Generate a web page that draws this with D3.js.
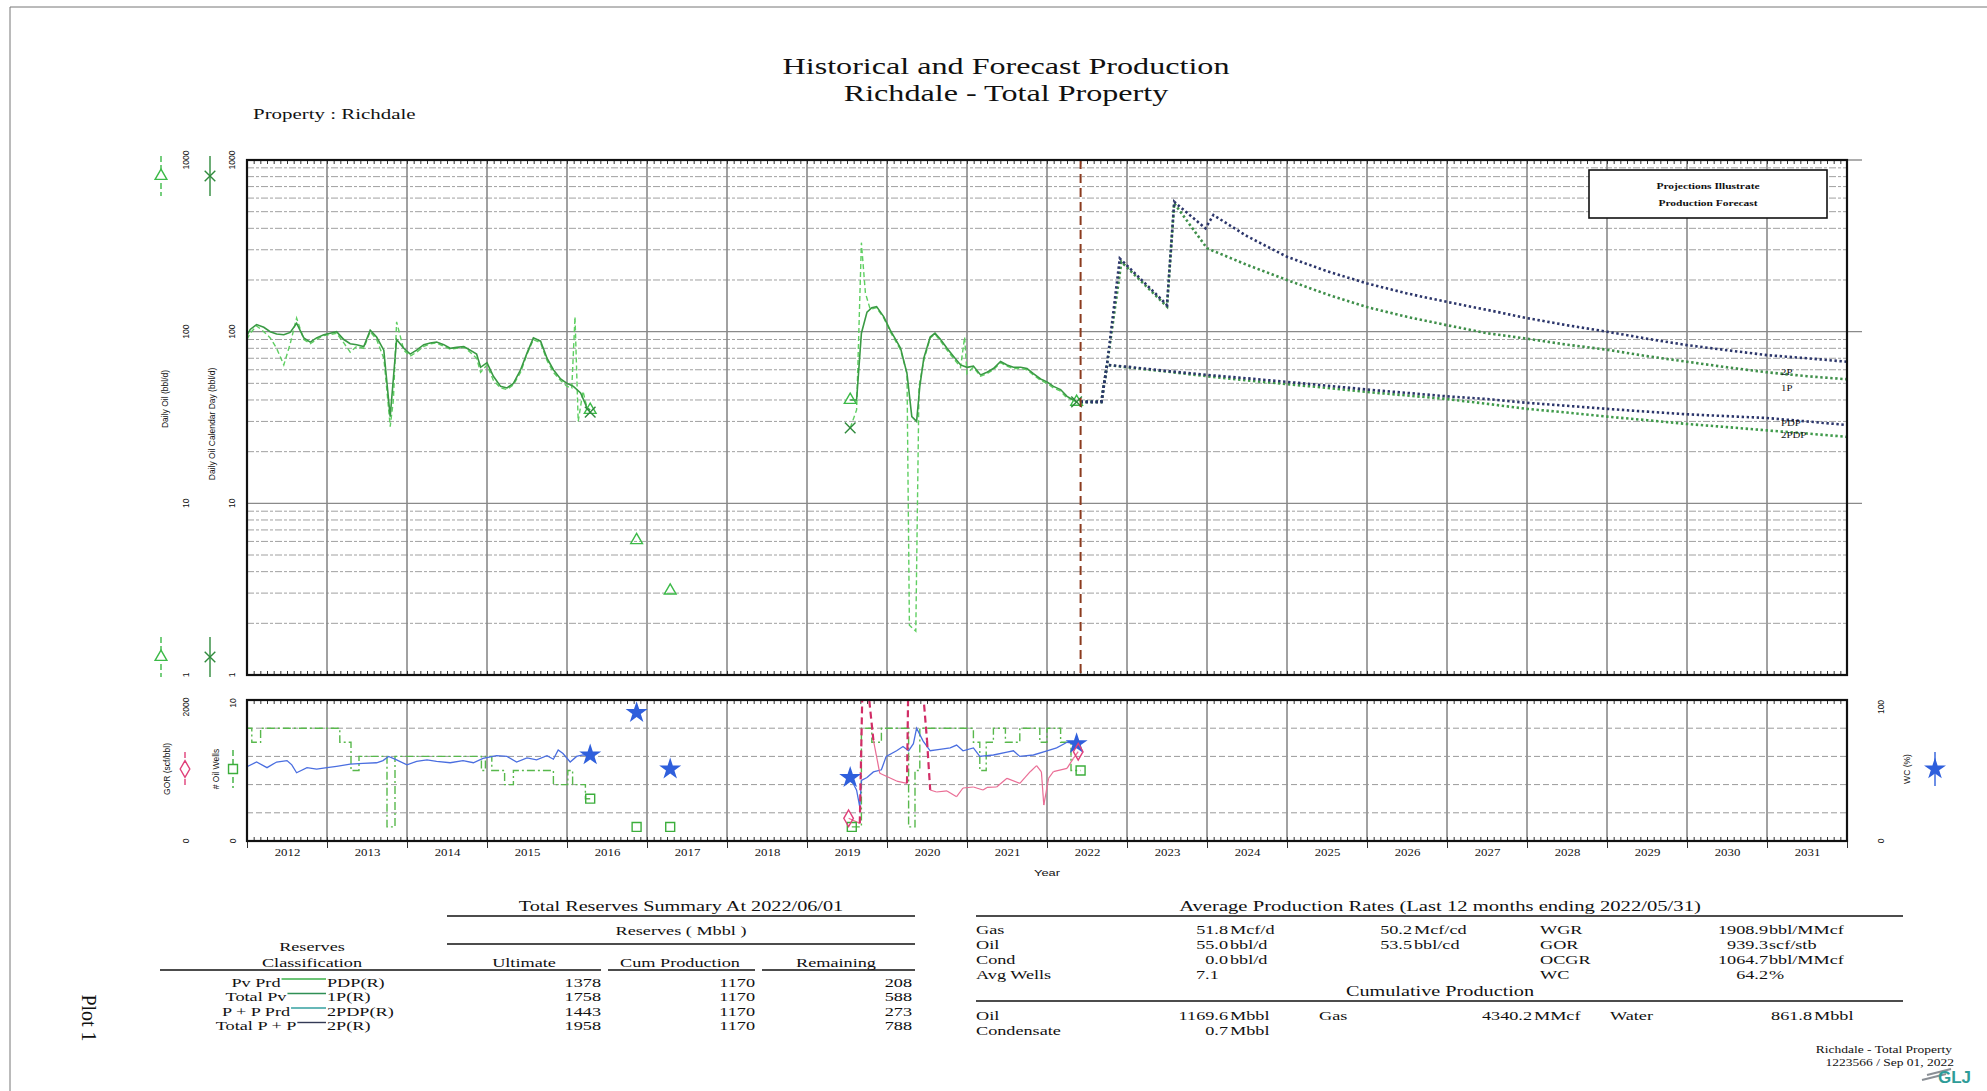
<!DOCTYPE html>
<html>
<head>
<meta charset="utf-8">
<script src="https://cdn.jsdelivr.net/npm/d3@7"></script>
<style>
	body { margin: 0; background: #fff; }
	text { font-family: "Liberation Serif", "Times New Roman", serif; fill: #111; }
	.sans { font-family: "Liberation Sans", Arial, sans-serif; }
</style>
</head>
<body>
<script>
// ---- data (decimal year, value) ----
const years = [2012, 2013, 2014, 2015, 2016, 2017, 2018, 2019, 2020, 2021, 2022, 2023, 2024, 2025, 2026, 2027, 2028, 2029, 2030, 2031];
const oilTicks = [1, 10, 100, 1000];
const forecastStart = 2022.42;

const oilDaily = [
	[2012.00, 95], [2012.04, 103], [2012.12, 110], [2012.21, 106], [2012.29, 100], [2012.37, 97], [2012.46, 96], [2012.54, 99],
	[2012.62, 112], [2012.71, 92], [2012.79, 87], [2012.87, 92], [2012.96, 96], [2013.04, 98], [2013.12, 100], [2013.21, 90],
	[2013.29, 85], [2013.37, 84], [2013.46, 82], [2013.54, 102], [2013.62, 93], [2013.71, 78], [2013.79, 32], [2013.87, 90],
	[2013.96, 80], [2014.04, 74], [2014.12, 78], [2014.21, 84], [2014.29, 86], [2014.37, 87], [2014.46, 84], [2014.54, 80],
	[2014.62, 81], [2014.71, 82], [2014.79, 78], [2014.87, 74], [2014.92, 62], [2015.00, 66], [2015.08, 55], [2015.17, 48],
	[2015.25, 47], [2015.33, 50], [2015.42, 60], [2015.50, 75], [2015.58, 92], [2015.67, 88], [2015.75, 70], [2015.83, 60],
	[2015.92, 53], [2016.00, 50], [2016.08, 48], [2016.17, 44], [2016.25, 36], [2016.29, 35],
	[2016.5, null],
	[2019.54, 40], [2019.62, 40], [2019.68, 98], [2019.75, 130], [2019.81, 138], [2019.87, 140], [2019.96, 122], [2020.04, 102],
	[2020.12, 88], [2020.17, 80], [2020.25, 57], [2020.31, 32], [2020.37, 30], [2020.41, 48], [2020.46, 70], [2020.54, 93],
	[2020.60, 98], [2020.67, 90], [2020.75, 80], [2020.83, 72], [2020.92, 64], [2021.00, 62], [2021.08, 63], [2021.17, 56],
	[2021.25, 58], [2021.33, 61], [2021.42, 67], [2021.50, 64], [2021.58, 62], [2021.67, 62], [2021.75, 61], [2021.83, 57],
	[2021.92, 53], [2022.00, 51], [2022.08, 48], [2022.17, 46], [2022.25, 42], [2022.33, 40], [2022.37, 39]
];
const oilCalDay = [
	[2012.00, 90], [2012.04, 98], [2012.12, 108], [2012.21, 100], [2012.29, 92], [2012.37, 80], [2012.46, 64], [2012.54, 85],
	[2012.62, 120], [2012.71, 90], [2012.79, 85], [2012.87, 90], [2012.96, 95], [2013.04, 96], [2013.12, 98], [2013.21, 86],
	[2013.29, 76], [2013.37, 82], [2013.46, 80], [2013.54, 100], [2013.62, 90], [2013.71, 70], [2013.75, 45], [2013.79, 28],
	[2013.83, 40], [2013.87, 114], [2013.96, 78], [2014.04, 72], [2014.12, 76], [2014.21, 82], [2014.29, 85], [2014.37, 86],
	[2014.46, 82], [2014.54, 79], [2014.62, 80], [2014.71, 81], [2014.79, 76], [2014.87, 70], [2014.92, 58], [2015.00, 64],
	[2015.08, 52], [2015.17, 47], [2015.25, 46], [2015.33, 49], [2015.42, 58], [2015.50, 74], [2015.58, 90], [2015.67, 86],
	[2015.75, 68], [2015.83, 58], [2015.92, 52], [2016.00, 48], [2016.06, 47], [2016.10, 122], [2016.14, 30], [2016.20, 45],
	[2016.25, 36], [2016.29, 34],
	[2016.5, null],
	[2019.54, 27.5], [2019.62, 35], [2019.68, 330], [2019.73, 168], [2019.79, 135], [2019.87, 138], [2019.96, 120], [2020.04, 100],
	[2020.12, 86], [2020.17, 78], [2020.25, 57], [2020.28, 1.95], [2020.36, 1.8], [2020.40, 48], [2020.46, 68], [2020.54, 92],
	[2020.60, 97], [2020.67, 88], [2020.75, 78], [2020.83, 70], [2020.92, 62], [2020.97, 93], [2021.00, 57], [2021.08, 62],
	[2021.17, 55], [2021.25, 57], [2021.33, 60], [2021.42, 66], [2021.50, 63], [2021.58, 61], [2021.67, 61], [2021.75, 60],
	[2021.83, 56], [2021.92, 52], [2022.00, 50], [2022.08, 47], [2022.17, 45], [2022.25, 41], [2022.33, 40], [2022.37, 39]
];
const oilDailyPts = [[2016.29, 35], [2016.87, 6.1], [2017.29, 3.1], [2019.54, 40], [2022.37, 39]];
const calDayPts = [[2016.29, 34], [2019.54, 27.5], [2022.37, 39]];

const fc2P = [
	[2022.42, 39], [2022.68, 39], [2022.75, 64], [2022.91, 267], [2023.50, 143], [2023.59, 571], [2023.98, 400], [2024.08, 478],
	[2024.5, 360], [2025.0, 273], [2025.5, 225], [2026.0, 191], [2026.5, 167], [2027.0, 149], [2027.5, 134], [2028.0, 120],
	[2028.5, 109], [2029.0, 100], [2029.5, 91], [2030.0, 83.5], [2030.5, 78], [2031.0, 73], [2031.5, 70], [2032.0, 66.8]
];
const fc1P = [
	[2022.42, 39], [2022.68, 39], [2022.75, 64], [2022.93, 255], [2023.50, 140], [2023.59, 560], [2024.0, 306], [2024.5, 245],
	[2025.0, 200], [2025.5, 165], [2026.0, 139], [2026.5, 122], [2027.0, 109], [2027.5, 98], [2028.0, 91], [2028.5, 84],
	[2029.0, 78.5], [2029.5, 72], [2030.0, 66.8], [2030.5, 62], [2031.0, 58], [2031.5, 55], [2032.0, 52.8]
];
const fcPDP = [
	[2022.42, 39], [2022.68, 39], [2022.75, 64], [2023.0, 62.5], [2023.5, 59], [2024.0, 56], [2024.5, 53.5], [2025.0, 51],
	[2025.5, 48.5], [2026.0, 46], [2026.5, 44], [2027.0, 42], [2027.5, 40.5], [2028.0, 38.5], [2028.5, 37], [2029.0, 35.5],
	[2029.5, 34.2], [2030.0, 33], [2030.5, 32.2], [2031.0, 31.4], [2031.5, 30], [2032.0, 28.6]
];
const fc2PDP = [
	[2022.42, 39], [2022.68, 39], [2022.75, 64], [2023.0, 62], [2023.5, 58.5], [2024.0, 55], [2024.5, 52], [2025.0, 49.5],
	[2025.5, 47], [2026.0, 44.5], [2026.5, 42.5], [2027.0, 40.5], [2027.5, 38], [2028.0, 35.5], [2028.5, 33.8], [2029.0, 32],
	[2029.5, 30.5], [2030.0, 29], [2030.5, 27.8], [2031.0, 26.6], [2031.5, 25.5], [2032.0, 24.4]
];

const wellCount = [
	[2012.00, 8], [2012.06, 7], [2012.17, 8], [2013.16, 7], [2013.30, 5], [2013.40, 6], [2013.75, 1], [2013.85, 6],
	[2014.93, 5], [2014.98, 6], [2015.06, 5], [2015.22, 4], [2015.33, 5], [2015.83, 4], [2016.01, 5], [2016.07, 4],
	[2016.23, 3], [2016.29, 3],
	[2016.5, null],
	[2019.56, 1], [2019.68, 8], [2019.81, 7], [2019.93, 8], [2020.27, 1], [2020.35, 5], [2020.41, 8], [2021.08, 7],
	[2021.16, 5], [2021.24, 7], [2021.33, 8], [2021.48, 7], [2021.66, 8], [2021.91, 7], [2022.00, 8], [2022.17, 7],
	[2022.30, 5], [2022.42, 5]
];
const waterCut = [
	[2012.00, 52.7], [2012.12, 56], [2012.25, 52], [2012.37, 56], [2012.50, 57], [2012.56, 54], [2012.62, 48.4], [2012.75, 52],
	[2012.87, 51], [2013.00, 52], [2013.12, 53], [2013.29, 54.5], [2013.45, 55], [2013.62, 55.5], [2013.70, 57], [2013.77, 60],
	[2013.87, 57.5], [2014.00, 54], [2014.12, 56.5], [2014.25, 57.5], [2014.37, 56.5], [2014.54, 55.5], [2014.70, 57],
	[2014.83, 55.5], [2014.95, 58.6], [2015.12, 60.5], [2015.25, 60], [2015.37, 56], [2015.50, 59], [2015.62, 57.5],
	[2015.75, 60.5], [2015.83, 58], [2015.89, 64.5], [2015.95, 62], [2016.04, 56], [2016.12, 60], [2016.20, 61], [2016.29, 61],
	[2016.5, null],
	[2019.54, 45], [2019.62, 36], [2019.66, 24], [2019.68, 43], [2019.75, 45], [2019.83, 49], [2019.93, 50.5], [2019.99, 60],
	[2020.12, 64], [2020.20, 67], [2020.27, 64], [2020.33, 69], [2020.37, 80], [2020.45, 71], [2020.54, 64], [2020.66, 65],
	[2020.79, 66], [2020.87, 68], [2020.95, 64], [2021.08, 66], [2021.16, 60], [2021.33, 61], [2021.50, 63], [2021.58, 64],
	[2021.66, 60], [2021.83, 61], [2022.00, 64], [2022.12, 66], [2022.25, 70], [2022.37, 69]
];
const gasOilRatio = [
	[2019.52, 322], [2019.66, 250], [2019.70, 2600], [2019.75, 2300], [2019.83, 1432], [2019.91, 960], [2020.12, 850],
	[2020.25, 818], [2020.27, 2600], [2020.37, 2600], [2020.43, 2400], [2020.50, 1430], [2020.54, 723], [2020.62, 695],
	[2020.75, 710], [2020.87, 628], [2020.95, 752], [2021.08, 766], [2021.20, 723], [2021.25, 760], [2021.37, 766],
	[2021.50, 889], [2021.66, 818], [2021.79, 983], [2021.87, 1070], [2021.93, 980], [2021.96, 510], [2022.02, 890],
	[2022.08, 983], [2022.25, 1031], [2022.33, 1173], [2022.39, 1267]
];
const wellPts = [[2016.29, 3], [2016.87, 1], [2017.29, 1], [2019.56, 1], [2022.42, 5]];
const wcPts = [[2016.29, 61], [2016.87, 91], [2017.29, 51], [2019.54, 45], [2022.37, 69]];
const gorPts = [[2019.52, 322], [2022.39, 1267]];

const reserveClasses = ["Pv Prd", "Total Pv", "P + P Prd", "Total P + P"];
const reserveCodes = ["PDP(R)", "1P(R)", "2PDP(R)", "2P(R)"];
const reserveUltimate = [1378, 1758, 1443, 1958];
const reserveCum = [1170, 1170, 1170, 1170];
const reserveRemaining = [208, 588, 273, 788];
const reserveColors = ["#3cb04a", "#2f8f55", "#35a0a0", "#333a55"];

const rateNames = ["Gas", "Oil", "Cond", "Avg Wells"];
const rateDaily = [["51.8", "Mcf/d"], ["55.0", "bbl/d"], ["0.0", "bbl/d"], ["7.1", ""]];
const rateCalDay = [["50.2", "Mcf/cd"], ["53.5", "bbl/cd"], null, null];
const ratioNames = ["WGR", "GOR", "OCGR", "WC"];
const ratioValues = [["1908.9", "bbl/MMcf"], ["939.3", "scf/stb"], ["1064.7", "bbl/MMcf"], ["64.2", "%"]];

// ---- layout ----
const W = 1987, H = 1091, SX = 1.35;
const plot = { left: 247, right: 1847, top: 160, bottom: 675 };
const sub = { top: 700, bottom: 841 };

const svg = d3.select("body").append("svg").attr("width", W).attr("height", H);

const x = d3.scaleLinear().domain([2012, 2032]).range([plot.left, plot.right]);
const yOil = d3.scaleLog().domain([1, 1000]).range([plot.bottom, plot.top]);
const yWells = d3.scaleLinear().domain([0, 10]).range([sub.bottom, sub.top]);
const yGor = d3.scaleLinear().domain([0, 2000]).range([sub.bottom, sub.top]);
const yWc = d3.scaleLinear().domain([0, 100]).range([sub.bottom, sub.top]);

// stretched text, the source page is wider than it is tall
const label = (g, px, py, s, o = {}) => {
	const sx = o.sx ?? SX;
	const t = g.append("text")
		.attr("transform", `translate(${px},${py})` + (o.rot ? ` rotate(${o.rot})` : "") + ` scale(${sx},1)`)
		.attr("dy", "0.35em")
		.attr("text-anchor", o.anchor || "start")
		.style("font-size", (o.size || 14) + "px")
		.text(s);
	if (o.cls) t.attr("class", o.cls);
	if (o.weight) t.style("font-weight", o.weight);
	return t;
};

// page frame
svg.append("path").attr("d", `M10,${H} V7 H${W}`).attr("fill", "none").attr("stroke", "#777").attr("stroke-width", 1);

// titles
label(svg, 1006, 66, "Historical and Forecast Production", { size: 23.8, anchor: "middle" });
label(svg, 1006, 93, "Richdale - Total Property", { size: 23.8, anchor: "middle" });
label(svg, 253, 114, "Property : Richdale", { size: 15.5 });

// clip paths
const defs = svg.append("defs");
defs.append("clipPath").attr("id", "clipMain").append("rect")
	.attr("x", plot.left).attr("y", plot.top).attr("width", plot.right - plot.left).attr("height", plot.bottom - plot.top);
defs.append("clipPath").attr("id", "clipSub").append("rect")
	.attr("x", plot.left).attr("y", sub.top).attr("width", plot.right - plot.left).attr("height", sub.bottom - sub.top);

// ---- main grid ----
const grid = svg.append("g");
yOil.ticks().forEach((v) => {
	const decade = Math.abs(Math.log10(v) - Math.round(Math.log10(v))) < 1e-9;
	if (v === 1 || v === 1000) return;
	grid.append("line")
		.attr("x1", plot.left).attr("x2", decade ? plot.right + 15 : plot.right)
		.attr("y1", yOil(v)).attr("y2", yOil(v))
		.attr("stroke", decade ? "#8a8a8a" : "#a0a0a0")
		.attr("stroke-width", decade ? 1.4 : 1)
		.attr("stroke-dasharray", decade ? null : "7,2,3,2");
});
grid.append("line").attr("x1", plot.right).attr("x2", plot.right + 15)
	.attr("y1", plot.top).attr("y2", plot.top).attr("stroke", "#8a8a8a").attr("stroke-width", 1.4);

x.ticks(20).slice(1, -1).forEach((yr) => {
	grid.append("line").attr("x1", x(yr)).attr("x2", x(yr)).attr("y1", plot.top).attr("y2", plot.bottom)
		.attr("stroke", "#8a8a8a").attr("stroke-width", 1.6);
	grid.append("line").attr("x1", x(yr)).attr("x2", x(yr)).attr("y1", sub.top).attr("y2", sub.bottom)
		.attr("stroke", "#8a8a8a").attr("stroke-width", 1.6);
});

// sub grid
[2, 4, 6, 8].forEach((w) => {
	grid.append("line").attr("x1", plot.left).attr("x2", plot.right).attr("y1", yWells(w)).attr("y2", yWells(w))
		.attr("stroke", "#9a9a9a").attr("stroke-dasharray", "6,3").attr("stroke-width", 1);
});

// month ticks along borders
const months = d3.range(0, 240).map((m) => 2012 + m / 12);
const monthTicks = (yPos, axisFn) => {
	const a = svg.append("g").attr("transform", `translate(0,${yPos})`)
		.call(axisFn(x).tickValues(months).tickSize(-4).tickFormat(""));
	a.select(".domain").remove();
	a.selectAll("line").attr("stroke", "#333");
};
monthTicks(plot.top, d3.axisTop);
monthTicks(plot.bottom, d3.axisBottom);
monthTicks(sub.top, d3.axisTop);
monthTicks(sub.bottom, d3.axisBottom);

// year axis under the small panel
const yearAxis = svg.append("g").attr("class", "sans").attr("transform", `translate(0,${sub.bottom})`)
	.call(d3.axisBottom(x).tickValues(years.map((y) => y + 0.5)).tickSize(0).tickPadding(8).tickFormat((d) => Math.floor(d)));
yearAxis.select(".domain").remove();
yearAxis.selectAll("text").style("font-size", "9.5px").attr("fill", "#222").attr("transform", `scale(${SX},1)`);
const yearTicks = svg.append("g").attr("transform", `translate(0,${sub.bottom})`)
	.call(d3.axisBottom(x).tickValues(x.ticks(20)).tickSize(7).tickFormat(""));
yearTicks.select(".domain").remove();
yearTicks.selectAll("line").attr("stroke", "#333");
label(svg, 1047, 873, "Year", { size: 9.5, anchor: "middle", cls: "sans" });

// ---- main series ----
const lineOil = d3.line().defined((d) => d[1] != null).x((d) => x(d[0])).y((d) => yOil(d[1]));
const main = svg.append("g").attr("clip-path", "url(#clipMain)");

main.append("path").datum(oilCalDay).attr("d", lineOil)
	.attr("fill", "none").attr("stroke", "#5fcf62").attr("stroke-width", 1.4).attr("stroke-dasharray", "5,3");
main.append("path").datum(oilDaily).attr("d", lineOil)
	.attr("fill", "none").attr("stroke", "#3a9a44").attr("stroke-width", 1.6);

const fcSeries = [
	{ name: "1P", data: fc1P, color: "#3f8f4a", dy: 16 },
	{ name: "2PDP", data: fc2PDP, color: "#3f9a4a", dy: 4 },
	{ name: "PDP", data: fcPDP, color: "#2c366b", dy: 5 },
	{ name: "2P", data: fc2P, color: "#2c366b", dy: 17 }
];
const lineFc = d3.line().x((d) => x(d[0])).y((d) => yOil(d[1]));
fcSeries.forEach((s) => {
	main.append("path").datum(s.data).attr("d", lineFc)
		.attr("fill", "none").attr("stroke", s.color).attr("stroke-width", 2.6).attr("stroke-dasharray", "2.4,2.6");
	const at = s.data.find((d) => d[0] === 2031.0);
	label(svg, x(2031.0) + 14, yOil(at[1]) + s.dy, s.name, { size: 9, sx: 1.2 });
});

// forecast start
svg.append("line").attr("x1", x(forecastStart)).attr("x2", x(forecastStart)).attr("y1", plot.top).attr("y2", plot.bottom)
	.attr("stroke", "#8b3b1e").attr("stroke-width", 2).attr("stroke-dasharray", "9,5");

// markers
const tri = d3.symbol().type(d3.symbolTriangle).size(60);
const cross = d3.symbol().type(d3.symbolTimes || d3.symbolX).size(75);
main.selectAll(".tri").data(oilDailyPts).enter().append("path")
	.attr("transform", (d) => `translate(${x(d[0])},${yOil(d[1])})`).attr("d", tri)
	.attr("fill", "none").attr("stroke", "#3cba48").attr("stroke-width", 1.4);
main.selectAll(".cx").data(calDayPts).enter().append("path")
	.attr("transform", (d) => `translate(${x(d[0])},${yOil(d[1])})`).attr("d", cross)
	.attr("fill", "none").attr("stroke", "#2f8a3c").attr("stroke-width", 1.4);

// legend box
svg.append("rect").attr("x", 1589).attr("y", 170).attr("width", 238).attr("height", 48)
	.attr("fill", "#fff").attr("stroke", "#111").attr("stroke-width", 1.6);
label(svg, 1708, 186, "Projections Illustrate", { size: 8.5, anchor: "middle", weight: "bold" });
label(svg, 1708, 203, "Production Forecast", { size: 8.5, anchor: "middle", weight: "bold" });

// main borders
svg.append("rect").attr("x", plot.left).attr("y", plot.top).attr("width", plot.right - plot.left).attr("height", plot.bottom - plot.top)
	.attr("fill", "none").attr("stroke", "#111").attr("stroke-width", 2.2);

// main left axes
const leftAxes = svg.append("g");
[186, 232].forEach((cx) => {
	oilTicks.forEach((v) => {
		label(leftAxes, cx, yOil(v), String(v), { size: 8.5, anchor: "middle", rot: -90, sx: 1, cls: "sans" });
	});
});
label(leftAxes, 165, 399, "Daily Oil (bbl/d)", { size: 8.5, anchor: "middle", rot: -90, sx: 1, cls: "sans" });
label(leftAxes, 212, 424, "Daily Oil Calendar Day (bbl/d)", { size: 8.5, anchor: "middle", rot: -90, sx: 1, cls: "sans" });
[176, 657].forEach((ly) => {
	leftAxes.append("line").attr("x1", 161).attr("x2", 161).attr("y1", ly - 20).attr("y2", ly + 20)
		.attr("stroke", "#3cba48").attr("stroke-width", 1.4).attr("stroke-dasharray", "6,3");
	leftAxes.append("path").attr("transform", `translate(161,${ly})`).attr("d", tri)
		.attr("fill", "#fff").attr("stroke", "#3cba48").attr("stroke-width", 1.4);
	leftAxes.append("line").attr("x1", 210).attr("x2", 210).attr("y1", ly - 20).attr("y2", ly + 20)
		.attr("stroke", "#2f8a3c").attr("stroke-width", 1.4);
	leftAxes.append("path").attr("transform", `translate(210,${ly})`).attr("d", cross)
		.attr("fill", "none").attr("stroke", "#2f8a3c").attr("stroke-width", 1.4);
});

// ---- small panel series ----
const subG = svg.append("g").attr("clip-path", "url(#clipSub)");
const lineWells = d3.line().curve(d3.curveStepAfter).defined((d) => d[1] != null).x((d) => x(d[0])).y((d) => yWells(d[1]));
subG.append("path").datum(wellCount).attr("d", lineWells)
	.attr("fill", "none").attr("stroke", "#58b84c").attr("stroke-width", 1.4).attr("stroke-dasharray", "8,3,2,3");
const lineWc = d3.line().defined((d) => d[1] != null).x((d) => x(d[0])).y((d) => yWc(d[1]));
subG.append("path").datum(waterCut).attr("d", lineWc)
	.attr("fill", "none").attr("stroke", "#4a6ee0").attr("stroke-width", 1.3);
// GOR: steep jumps are drawn dashed, as on the source plot
d3.pairs(gasOilRatio).forEach(([a, b]) => {
	const steep = Math.abs(b[1] - a[1]) > 600;
	subG.append("path").datum([a, b]).attr("d", d3.line().x((d) => x(d[0])).y((d) => yGor(d[1])))
		.attr("fill", "none")
		.attr("stroke", steep ? "#d12d66" : "#ea6d95")
		.attr("stroke-width", steep ? 2.2 : 1.2)
		.attr("stroke-dasharray", steep ? "7,4" : null);
});

const square = d3.symbol().type(d3.symbolSquare).size(80);
const star = d3.symbol().type(d3.symbolStar).size(150);
const diamond = d3.symbol().type(d3.symbolDiamond).size(80);
svg.selectAll(".sq").data(wellPts).enter().append("path")
	.attr("transform", (d) => `translate(${x(d[0])},${yWells(d[1])})`).attr("d", square)
	.attr("fill", "none").attr("stroke", "#3cae3c").attr("stroke-width", 1.4);
svg.selectAll(".st").data(wcPts).enter().append("path")
	.attr("transform", (d) => `translate(${x(d[0])},${yWc(d[1])})`).attr("d", star)
	.attr("fill", "#2f5fdc");
svg.selectAll(".dm").data(gorPts).enter().append("path")
	.attr("transform", (d) => `translate(${x(d[0])},${yGor(d[1])})`).attr("d", diamond)
	.attr("fill", "none").attr("stroke", "#e0407a").attr("stroke-width", 1.4);

svg.append("rect").attr("x", plot.left).attr("y", sub.top).attr("width", plot.right - plot.left).attr("height", sub.bottom - sub.top)
	.attr("fill", "none").attr("stroke", "#111").attr("stroke-width", 2.2);

// small panel axes
const subAxes = svg.append("g");
label(subAxes, 186, 707, "2000", { size: 8.5, anchor: "middle", rot: -90, sx: 1, cls: "sans" });
label(subAxes, 186, yGor(0), "0", { size: 8.5, anchor: "middle", rot: -90, sx: 1, cls: "sans" });
label(subAxes, 233, 703, "10", { size: 8.5, anchor: "middle", rot: -90, sx: 1, cls: "sans" });
label(subAxes, 233, yWells(0), "0", { size: 8.5, anchor: "middle", rot: -90, sx: 1, cls: "sans" });
label(subAxes, 1881, 707, "100", { size: 8.5, anchor: "middle", rot: -90, sx: 1, cls: "sans" });
label(subAxes, 1881, yWc(0), "0", { size: 8.5, anchor: "middle", rot: -90, sx: 1, cls: "sans" });
label(subAxes, 167, 769, "GOR (scf/bbl)", { size: 8.5, anchor: "middle", rot: -90, sx: 1, cls: "sans" });
label(subAxes, 216, 769, "# Oil Wells", { size: 8.5, anchor: "middle", rot: -90, sx: 1, cls: "sans" });
label(subAxes, 1907, 769, "WC (%)", { size: 8.5, anchor: "middle", rot: -90, sx: 1, cls: "sans" });
subAxes.append("line").attr("x1", 185).attr("x2", 185).attr("y1", 752).attr("y2", 786)
	.attr("stroke", "#e0407a").attr("stroke-width", 1.4).attr("stroke-dasharray", "6,3");
subAxes.append("path").attr("transform", "translate(185,769)").attr("d", diamond)
	.attr("fill", "#fff").attr("stroke", "#e0407a").attr("stroke-width", 1.4);
subAxes.append("line").attr("x1", 233).attr("x2", 233).attr("y1", 750).attr("y2", 788)
	.attr("stroke", "#3cae3c").attr("stroke-width", 1.4).attr("stroke-dasharray", "6,3");
subAxes.append("path").attr("transform", "translate(233,769)").attr("d", square)
	.attr("fill", "#fff").attr("stroke", "#3cae3c").attr("stroke-width", 1.4);
subAxes.append("line").attr("x1", 1935).attr("x2", 1935).attr("y1", 752).attr("y2", 786)
	.attr("stroke", "#2f5fdc").attr("stroke-width", 1.4);
subAxes.append("path").attr("transform", "translate(1935,769)").attr("d", star).attr("fill", "#2f5fdc");

// ---- reserves table ----
const tbl = svg.append("g");
const hline = (g, x1, x2, yy, w = 1.6) => g.append("line").attr("x1", x1).attr("x2", x2).attr("y1", yy).attr("y2", yy)
	.attr("stroke", "#111").attr("stroke-width", w);
label(tbl, 681, 906, "Total Reserves Summary At 2022/06/01", { size: 15, anchor: "middle" });
hline(tbl, 447, 915, 916);
label(tbl, 681, 930, "Reserves ( Mbbl )", { size: 13.5, anchor: "middle" });
hline(tbl, 447, 915, 944);
label(tbl, 312, 946, "Reserves", { size: 13.5, anchor: "middle" });
label(tbl, 312, 962, "Classification", { size: 13.5, anchor: "middle" });
label(tbl, 524, 962, "Ultimate", { size: 13.5, anchor: "middle" });
label(tbl, 680, 962, "Cum Production", { size: 13.5, anchor: "middle" });
label(tbl, 836, 962, "Remaining", { size: 13.5, anchor: "middle" });
hline(tbl, 160, 601, 970);
hline(tbl, 608, 755, 970);
hline(tbl, 762, 915, 970);
reserveClasses.forEach((c, i) => {
	const ry = 982 + i * 14.5;
	const t = label(tbl, 256, ry, c, { size: 13.5, anchor: "middle" });
	const half = (t.node().getComputedTextLength() * SX) / 2;
	tbl.append("line").attr("x1", 256 + half + 1).attr("x2", 326).attr("y1", ry - 3).attr("y2", ry - 3)
		.attr("stroke", reserveColors[i]).attr("stroke-width", 1.4);
	label(tbl, 327, ry, reserveCodes[i], { size: 13.5 });
	label(tbl, 601, ry, reserveUltimate[i], { size: 13.5, anchor: "end" });
	label(tbl, 755, ry, reserveCum[i], { size: 13.5, anchor: "end" });
	label(tbl, 912, ry, reserveRemaining[i], { size: 13.5, anchor: "end" });
});
label(svg, 89, 1018, "Plot 1", { size: 20, anchor: "middle", rot: 90, sx: 1 });

// ---- rates table ----
const rt = svg.append("g");
label(rt, 1440, 906, "Average Production Rates (Last 12 months ending 2022/05/31)", { size: 15.3, anchor: "middle" });
hline(rt, 976, 1903, 916);
rateNames.forEach((n, i) => {
	const ry = 929 + i * 15;
	label(rt, 976, ry, n, { size: 13.5 });
	const dv = rateDaily[i];
	if (dv[1]) {
		label(rt, 1228, ry, dv[0], { size: 13.5, anchor: "end" });
		label(rt, 1230, ry, dv[1], { size: 13.5 });
	} else {
		label(rt, 1196, ry, dv[0], { size: 13.5 });
	}
	const cv = rateCalDay[i];
	if (cv) {
		label(rt, 1412, ry, cv[0], { size: 13.5, anchor: "end" });
		label(rt, 1414, ry, cv[1], { size: 13.5 });
	}
	label(rt, 1540, ry, ratioNames[i], { size: 13.5 });
	const rv = ratioValues[i];
	label(rt, 1768, ry, rv[0], { size: 13.5, anchor: "end" });
	label(rt, 1769, ry, rv[1], { size: 13.5 });
});
label(rt, 1440, 991, "Cumulative Production", { size: 15, anchor: "middle" });
hline(rt, 976, 1903, 1001);
label(rt, 976, 1015, "Oil", { size: 13.5 });
label(rt, 1228, 1015, "1169.6", { size: 13.5, anchor: "end" });
label(rt, 1230, 1015, "Mbbl", { size: 13.5 });
label(rt, 1319, 1015, "Gas", { size: 13.5 });
label(rt, 1532, 1015, "4340.2", { size: 13.5, anchor: "end" });
label(rt, 1534, 1015, "MMcf", { size: 13.5 });
label(rt, 1610, 1015, "Water", { size: 13.5 });
label(rt, 1812, 1015, "861.8", { size: 13.5, anchor: "end" });
label(rt, 1814, 1015, "Mbbl", { size: 13.5 });
label(rt, 976, 1030, "Condensate", { size: 13.5 });
label(rt, 1228, 1030, "0.7", { size: 13.5, anchor: "end" });
label(rt, 1230, 1030, "Mbbl", { size: 13.5 });

// footer
label(svg, 1952, 1049, "Richdale - Total Property", { size: 10, anchor: "end" });
label(svg, 1954, 1062, "1223566 / Sep 01, 2022", { size: 10, anchor: "end" });
const logo = svg.append("g");
[0, 5].forEach((o) => logo.append("line").attr("x1", 1922 + o).attr("x2", 1946 + o).attr("y1", 1080 - o).attr("y2", 1074 - o)
	.attr("stroke", "#8a8f95").attr("stroke-width", 2.2));
logo.append("text").attr("x", 1938).attr("y", 1083).attr("class", "sans")
	.style("font-size", "17px").style("font-weight", "bold").style("fill", "#2f9c98").text("GLJ");
</script>
</body>
</html>
